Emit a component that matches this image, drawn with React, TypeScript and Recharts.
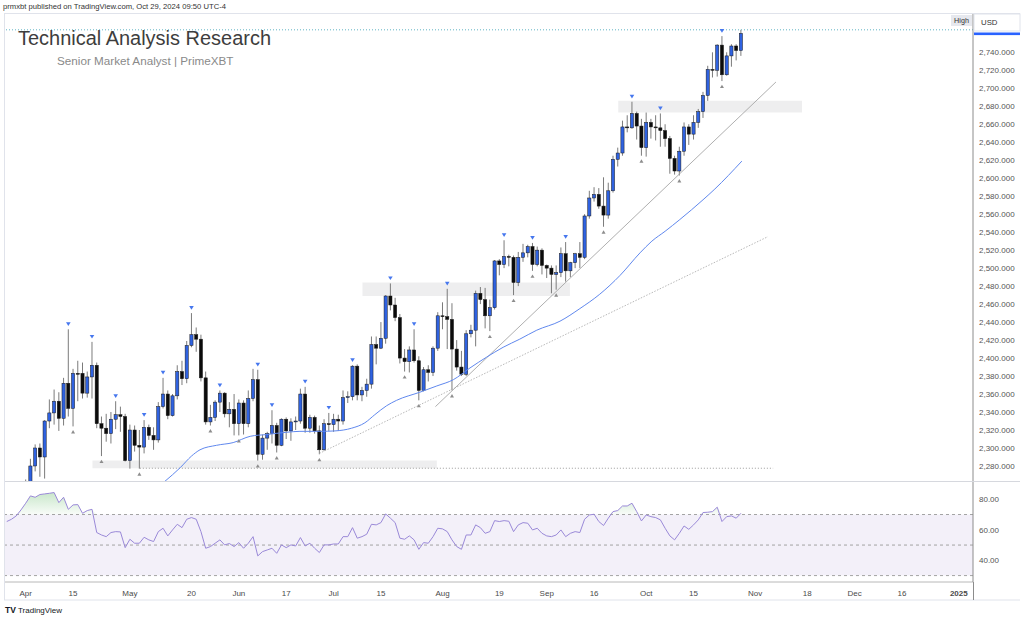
import React from "react";
import {
  ComposedChart,
  Bar,
  Line,
  Scatter,
  Area,
  XAxis,
  YAxis,
  ReferenceArea,
  ReferenceLine,
} from "recharts";

const FONT = '"Liberation Sans", Arial, Helvetica, sans-serif';

// bar index of the first candle (0 = Apr 1, 2024; daily, weekdays only)
const firstBar = -4;

const opens = [
  2165, 2172, 2178, 2194,
  2233, 2251, 2280, 2300, 2290, 2330, 2339, 2352, 2333, 2372,
  2344, 2383, 2383, 2361, 2379, 2392, 2327, 2322, 2316, 2332,
  2337, 2335, 2286, 2320, 2303, 2301, 2323, 2314, 2309, 2346,
  2360, 2336, 2358, 2385, 2377, 2414, 2426, 2421, 2378, 2329,
  2334, 2351, 2361, 2338, 2343, 2327, 2350, 2327, 2355, 2376,
  2293, 2311, 2316, 2325, 2303, 2332, 2319, 2329, 2330, 2360,
  2322, 2334, 2319, 2298, 2327, 2326, 2332, 2330, 2356, 2357,
  2391, 2359, 2364, 2371, 2415, 2411, 2422, 2469, 2459, 2445,
  2400, 2396, 2409, 2397, 2364, 2387, 2384, 2411, 2447, 2446,
  2443, 2410, 2390, 2382, 2427, 2431, 2472, 2465, 2447, 2456,
  2508, 2504, 2513, 2512, 2484, 2512, 2517, 2524, 2504, 2520,
  2503, 2500, 2493, 2495, 2516, 2497, 2506, 2516, 2512, 2558,
  2578, 2582, 2569, 2559, 2586, 2621, 2628, 2657, 2656, 2672,
  2658, 2634, 2662, 2657, 2656, 2653, 2644, 2622, 2608, 2630,
  2657, 2649, 2662, 2674, 2692, 2721, 2720, 2748, 2715, 2736,
  2747, 2742,
];
const highs = [
  2176, 2186, 2196, 2236,
  2265, 2288, 2304, 2305, 2331, 2354, 2365, 2362, 2378, 2432,
  2388, 2397, 2395, 2385, 2418, 2395, 2335, 2338, 2340, 2352,
  2346, 2338, 2326, 2325, 2320, 2331, 2326, 2323, 2351, 2378,
  2364, 2360, 2392, 2397, 2419, 2450, 2434, 2426, 2385, 2348,
  2353, 2364, 2362, 2351, 2360, 2354, 2353, 2364, 2388, 2387,
  2315, 2318, 2342, 2328, 2333, 2334, 2333, 2335, 2366, 2368,
  2337, 2336, 2325, 2332, 2339, 2338, 2337, 2364, 2363, 2392,
  2393, 2368, 2377, 2424, 2424, 2440, 2470, 2483, 2467, 2449,
  2410, 2413, 2432, 2402, 2390, 2392, 2413, 2451, 2462, 2477,
  2461, 2420, 2408, 2431, 2437, 2475, 2479, 2478, 2465, 2509,
  2510, 2531, 2515, 2514, 2518, 2527, 2526, 2528, 2524, 2522,
  2504, 2503, 2503, 2523, 2529, 2507, 2517, 2529, 2560, 2586,
  2590, 2589, 2601, 2595, 2625, 2634, 2664, 2670, 2685, 2674,
  2666, 2673, 2666, 2670, 2672, 2660, 2647, 2625, 2635, 2662,
  2660, 2670, 2677, 2696, 2725, 2740, 2749, 2758, 2740, 2749,
  2749, 2765,
];
const lows = [
  2163, 2169, 2172, 2188,
  2228, 2243, 2274, 2268, 2266, 2322, 2326, 2319, 2325, 2335,
  2324, 2352, 2355, 2356, 2355, 2322, 2291, 2307, 2305, 2321,
  2318, 2285, 2277, 2296, 2277, 2294, 2309, 2298, 2306, 2344,
  2332, 2335, 2354, 2370, 2372, 2412, 2407, 2374, 2326, 2325,
  2330, 2340, 2334, 2323, 2314, 2314, 2315, 2323, 2352, 2286,
  2287, 2298, 2305, 2295, 2302, 2310, 2308, 2320, 2327, 2317,
  2317, 2316, 2293, 2297, 2319, 2318, 2319, 2326, 2350, 2353,
  2353, 2352, 2357, 2366, 2393, 2410, 2416, 2453, 2441, 2394,
  2385, 2384, 2395, 2353, 2363, 2374, 2380, 2408, 2432, 2410,
  2364, 2386, 2380, 2380, 2423, 2413, 2460, 2433, 2430, 2454,
  2492, 2500, 2502, 2470, 2480, 2507, 2512, 2497, 2502, 2493,
  2489, 2472, 2476, 2490, 2485, 2490, 2500, 2500, 2510, 2555,
  2574, 2566, 2546, 2555, 2584, 2613, 2625, 2651, 2655, 2643,
  2625, 2624, 2644, 2642, 2635, 2635, 2605, 2604, 2603, 2625,
  2637, 2643, 2656, 2667, 2686, 2712, 2713, 2708, 2714, 2724,
  2731, 2736,
];
const closes = [
  2172, 2178, 2194, 2233,
  2251, 2280, 2300, 2290, 2330, 2339, 2352, 2333, 2372, 2344,
  2383, 2382, 2361, 2379, 2392, 2327, 2322, 2316, 2332, 2337,
  2335, 2286, 2320, 2303, 2301, 2323, 2314, 2309, 2346, 2360,
  2336, 2358, 2385, 2377, 2414, 2426, 2421, 2378, 2329, 2334,
  2351, 2361, 2338, 2343, 2327, 2350, 2327, 2355, 2376, 2293,
  2311, 2316, 2325, 2303, 2332, 2319, 2329, 2330, 2360, 2322,
  2334, 2319, 2298, 2327, 2326, 2332, 2330, 2356, 2357, 2391,
  2359, 2364, 2371, 2415, 2411, 2422, 2469, 2459, 2445, 2400,
  2396, 2409, 2397, 2364, 2387, 2384, 2411, 2447, 2446, 2443,
  2410, 2390, 2382, 2427, 2431, 2472, 2465, 2447, 2456, 2508,
  2504, 2513, 2512, 2484, 2512, 2517, 2524, 2504, 2520, 2503,
  2500, 2493, 2495, 2516, 2497, 2506, 2516, 2512, 2558, 2578,
  2582, 2569, 2559, 2586, 2621, 2628, 2657, 2656, 2672, 2658,
  2634, 2662, 2657, 2656, 2653, 2644, 2622, 2608, 2630, 2657,
  2649, 2662, 2674, 2692, 2721, 2720, 2748, 2715, 2736, 2747,
  2742, 2761,
];

// RSI(14) values per bar
const rsiValues = [
  65.4, 66.9, 69.1, 73,
  77.4, 82.2, 81.3, 83.1, 83.5, 83.9, 84.4, 77.8, 81.3, 73.4,
  76.3, 76.5, 70.8, 72.6, 73.4, 58.2, 56.6, 55.5, 58.2, 58.8,
  58.6, 48.3, 53.8, 51.2, 51.2, 55.1, 53.4, 52.3, 58.8, 61,
  56, 59.9, 63.6, 61.4, 66.9, 68, 66.9, 58.8, 47.9, 49,
  51.2, 53.4, 50.1, 51, 49, 51.6, 47.9, 51.2, 55.5, 42.9,
  45.7, 46.8, 47.9, 44.6, 50.1, 48.3, 50.1, 49.4, 54.9, 49.4,
  51.2, 47.9, 45.1, 50.1, 50.1, 50.7, 50.7, 55.5, 55.5, 61.4,
  54.5, 55.5, 57.1, 63.6, 63.2, 64.7, 70.4, 67.6, 64.7, 54.5,
  53.8, 56, 53.4, 47.2, 51.6, 51.2, 55.5, 61, 60.6, 58.8,
  53.4, 49, 47.2, 56.6, 56.6, 63.2, 61.4, 57.7, 58.8, 66,
  65.4, 66, 65.6, 58.8, 63.2, 64.7, 64.3, 59.9, 61, 57.7,
  56, 55.5, 56.6, 59.9, 55.5, 57.7, 58.8, 58.2, 66.9, 69.7,
  70.2, 65.4, 62.8, 67.6, 71.9, 72.6, 75.6, 75.6, 77.4, 71.9,
  65.8, 69.7, 68.6, 68, 66.5, 61, 56, 53.4, 57.7, 62.5,
  60.3, 63.2, 66.5, 71.3, 71.5, 71.9, 74.8, 65.4, 68.6, 69.1,
  67.6, 70.8,
];

// moving average (blue line), read at bar positions
const maBars = [
  29.4, 32.6, 35, 36.8, 40.3, 43.8, 47.4, 50.9, 55.1, 57.9, 62.1, 65.3,
  68.8, 71.6, 73.7, 76.2, 78.3, 83.2, 86.8, 90.3, 93.8, 97.3, 100.8, 104.3,
  107.9, 112.8, 117, 121.2, 125.5, 129.7, 132.2, 135, 138.1, 143, 145.5, 151.2,
];
const maValues = [
  2263, 2278, 2291, 2298, 2303, 2306, 2313, 2315, 2317.5, 2318.5, 2318.5, 2319,
  2322, 2328, 2337, 2347, 2353, 2362, 2369, 2376, 2389, 2401, 2412, 2421,
  2431, 2441, 2455, 2471, 2492, 2517, 2530, 2541, 2554, 2576, 2588, 2619,
];

// pivot markers
const pivotHighBars = [9, 14, 19, 25, 29, 35, 41, 49, 52, 59, 64, 69, 77, 82, 89, 101, 107, 114, 128, 134, 147];
const pivotLowBars = [10, 16, 24, 39, 45, 49, 53, 62, 80, 83, 90, 98, 103, 107, 112, 122, 130, 138, 147];

// drawings: zones [x1, x2, yLow, yHigh]
const zoneBottom = [14.1, 86.8, 2277.5, 2286];
const zoneMiddle = [71.1, 114.9, 2469, 2484];
const zoneTop = [125.1, 163.9, 2673, 2686];
const supportDotted = [24.1, 157.8, 2277.5];
const trendLower = [62, 2294, 156.7, 2535];
const trendUpper = [86.5, 2346, 158.4, 2707];
const highLevel = 2765;

// axes
const xDomain = [-4.37, 200];
const priceDomain = [2263.3, 2783.7];
const priceTicks = [2280, 2300, 2320, 2340, 2360, 2380, 2400, 2420, 2440, 2460, 2480, 2500, 2520, 2540, 2560, 2580, 2600, 2620, 2640, 2660, 2680, 2700, 2720, 2740];
const rsiDomain = [25.8, 91.3];
const rsiTicks = [40, 60, 80];
const dateTickBars = [0, 10, 22, 35, 45, 55, 65, 75, 88, 100, 110, 120, 131, 141, 154, 165, 175, 185, 197];
const dateTickLabels = ["Apr", "15", "May", "20", "Jun", "17", "Jul", "15", "Aug", "19", "Sep", "16", "Oct", "15", "Nov", "18", "Dec", "16", "2025"];

const candles = opens.map((o, k) => ({
  i: k + firstBar,
  o,
  h: highs[k],
  l: lows[k],
  c: closes[k],
  range: [lows[k], highs[k]],
}));
const rsiData = rsiValues.map((r, k) => ({ i: k + firstBar, rsi: r }));
const maData = maBars.map((b, k) => ({ i: b, v: maValues[k] }));
const pivotHighData = pivotHighBars.map((b) => ({ i: b, y: highs[b - firstBar] }));
const pivotLowData = pivotLowBars.map((b) => ({ i: b, y: lows[b - firstBar] }));

const fmtPrice = (v: number) =>
  v.toLocaleString("en-US", { minimumFractionDigits: 3, maximumFractionDigits: 3 });

const Candle = (props: any) => {
  const { x, y, width, height, payload } = props;
  if (x == null || y == null || !payload) return null;
  const top = Math.min(y, y + height);
  const h = Math.abs(height);
  const span = payload.h - payload.l;
  const k = span > 0 ? h / span : 0;
  const yo = top + (payload.h - payload.o) * k;
  const yc = top + (payload.h - payload.c) * k;
  const cx = x + width / 2;
  const up = payload.c >= payload.o;
  const bt = Math.min(yo, yc);
  const bh = Math.max(Math.abs(yc - yo), 0.8);
  return (
    <g>
      <line x1={cx} x2={cx} y1={top} y2={top + h} stroke="#7b7b7b" strokeWidth={1} />
      <rect
        x={cx - 1.6}
        y={bt}
        width={3.2}
        height={bh}
        fill={up ? "#2f62e0" : "#0b0b0b"}
        stroke="#1a1a1a"
        strokeWidth={0.5}
      />
    </g>
  );
};

const HighMark = (props: any) => {
  const { cx, cy } = props;
  if (cx == null || cy == null) return null;
  return <path d={`M${cx - 2.3},${cy - 7} L${cx + 2.3},${cy - 7} L${cx},${cy - 3.3} Z`} fill="#4677ee" />;
};
const LowMark = (props: any) => {
  const { cx, cy } = props;
  if (cx == null || cy == null) return null;
  return <path d={`M${cx - 2},${cy + 7} L${cx + 2},${cy + 7} L${cx},${cy + 3.6} Z`} fill="#8d8d8d" />;
};

const PriceTick = (props: any) => {
  const { x, y, payload } = props;
  return (
    <text x={x} y={y} dy={3} fontSize={8} fill="#555" fontFamily={FONT}>
      {fmtPrice(payload.value)}
    </text>
  );
};
const RsiTick = (props: any) => {
  const { x, y, payload } = props;
  return (
    <text x={x} y={y} dy={3} fontSize={8} fill="#555" fontFamily={FONT}>
      {Number(payload.value).toFixed(2)}
    </text>
  );
};
const DateTick = (props: any) => {
  const { x, y, payload } = props;
  const k = dateTickBars.indexOf(payload.value);
  const label = k >= 0 ? dateTickLabels[k] : "";
  return (
    <text
      x={x}
      y={y}
      dy={5.5}
      textAnchor="middle"
      fontSize={8}
      fill="#4a4a4a"
      fontWeight={label === "2025" ? 700 : 400}
      fontFamily={FONT}
    >
      {label}
    </text>
  );
};

export default function App() {
  return (
    <div
      style={{
        position: "absolute",
        left: 0,
        top: 0,
        width: 1024,
        height: 618,
        background: "#ffffff",
        overflow: "hidden",
        fontFamily: FONT,
      }}
    >
      {/* price pane */}
      <div style={{ position: "absolute", left: 0, top: 13, width: 1024, height: 468 }}>
        <ComposedChart
          width={1024}
          height={468}
          data={candles}
          margin={{ top: 0, right: 0, bottom: 0, left: 5 }}
        >
          <XAxis type="number" dataKey="i" domain={xDomain} hide allowDataOverflow />
          <YAxis
            orientation="right"
            type="number"
            domain={priceDomain}
            ticks={priceTicks}
            width={51}
            allowDataOverflow
            interval={0}
            axisLine={{ stroke: "#8c8c8c" }}
            tickLine={false}
            tickMargin={0}
            tick={<PriceTick />}
          />
          <ReferenceArea
            x1={zoneBottom[0]}
            x2={zoneBottom[1]}
            y1={zoneBottom[2]}
            y2={zoneBottom[3]}
            fill="#787b86"
            fillOpacity={0.13}
            stroke="none"
          />
          <ReferenceArea
            x1={zoneMiddle[0]}
            x2={zoneMiddle[1]}
            y1={zoneMiddle[2]}
            y2={zoneMiddle[3]}
            fill="#787b86"
            fillOpacity={0.13}
            stroke="none"
          />
          <ReferenceArea
            x1={zoneTop[0]}
            x2={zoneTop[1]}
            y1={zoneTop[2]}
            y2={zoneTop[3]}
            fill="#787b86"
            fillOpacity={0.13}
            stroke="none"
          />
          <ReferenceLine
            segment={[
              { x: supportDotted[0], y: supportDotted[2] },
              { x: supportDotted[1], y: supportDotted[2] },
            ]}
            stroke="#9a9a9a"
            strokeDasharray="1 2"
            strokeWidth={1}
          />
          <ReferenceLine y={highLevel} stroke="#5fb4c4" strokeDasharray="1 2" strokeWidth={1} />
          <ReferenceLine
            segment={[
              { x: trendLower[0], y: trendLower[1] },
              { x: trendLower[2], y: trendLower[3] },
            ]}
            stroke="#b0b0b0"
            strokeDasharray="1.5 1.5"
            strokeWidth={0.9}
          />
          <ReferenceLine
            segment={[
              { x: trendUpper[0], y: trendUpper[1] },
              { x: trendUpper[2], y: trendUpper[3] },
            ]}
            stroke="#a6a6a6"
            strokeWidth={0.9}
          />
          <Line
            data={maData}
            dataKey="v"
            type="monotone"
            stroke="#6088ee"
            strokeWidth={1}
            dot={false}
            isAnimationActive={false}
          />
          <Bar dataKey="range" barSize={3} shape={<Candle />} isAnimationActive={false} />
          <Scatter data={pivotHighData} dataKey="y" shape={<HighMark />} isAnimationActive={false} />
          <Scatter data={pivotLowData} dataKey="y" shape={<LowMark />} isAnimationActive={false} />
        </ComposedChart>
      </div>

      {/* RSI pane + time axis */}
      <div style={{ position: "absolute", left: 0, top: 482, width: 1024, height: 117 }}>
        <ComposedChart
          width={1024}
          height={117}
          data={rsiData}
          margin={{ top: 0, right: 0, bottom: 0, left: 5 }}
        >
          <defs>
            <linearGradient id="obFill" x1="0" y1="0" x2="0" y2="1">
              <stop offset="0%" stopColor="#4caf50" stopOpacity={0.5} />
              <stop offset="100%" stopColor="#4caf50" stopOpacity={0.06} />
            </linearGradient>
          </defs>
          <XAxis
            type="number"
            dataKey="i"
            domain={xDomain}
            ticks={dateTickBars}
            interval={0}
            height={17}
            allowDataOverflow
            axisLine={{ stroke: "#b8b8b8" }}
            tickLine={false}
            tick={<DateTick />}
          />
          <YAxis
            orientation="right"
            type="number"
            domain={rsiDomain}
            ticks={rsiTicks}
            width={51}
            allowDataOverflow
            axisLine={{ stroke: "#8c8c8c" }}
            tickLine={false}
            tickMargin={0}
            tick={<RsiTick />}
          />
          <ReferenceArea y1={30} y2={70} fill="#7e57c2" fillOpacity={0.09} stroke="none" />
          <ReferenceLine y={70} stroke="#a3a3a3" strokeDasharray="3 3" />
          <ReferenceLine y={50} stroke="#a3a3a3" strokeDasharray="3 3" />
          <ReferenceLine y={30} stroke="#a3a3a3" strokeDasharray="3 3" />
          <Area
            dataKey={(d: any) => [70, Math.max(70, d.rsi)]}
            type="linear"
            stroke="none"
            fill="url(#obFill)"
            isAnimationActive={false}
          />
          <Line
            dataKey="rsi"
            type="linear"
            stroke="#9a89d8"
            strokeWidth={1}
            dot={false}
            isAnimationActive={false}
          />
        </ComposedChart>
      </div>

      {/* overlay: frame, labels, texts */}
      <svg
        width={1024}
        height={618}
        style={{ position: "absolute", left: 0, top: 0, pointerEvents: "none" }}
      >
        <line x1={4} x2={1020} y1={13.5} y2={13.5} stroke="#e0e3eb" />
        <line x1={4.5} x2={4.5} y1={13.5} y2={600} stroke="#e0e3eb" />
        <line x1={5} x2={973} y1={481.5} y2={481.5} stroke="#d6d8de" />
        <line x1={973} x2={1020} y1={481.5} y2={481.5} stroke="#d6d8de" />
        <line x1={4} x2={1020} y1={600} y2={600} stroke="#e0e3eb" />
        <line x1={973.5} x2={973.5} y1={582} y2={600} stroke="#8c8c8c" />

        <text x={3} y={9} fontSize={7.6} fill="#333" fontFamily={FONT} textLength={223} lengthAdjust="spacingAndGlyphs">
          prmxbt published on TradingView.com, Oct 29, 2024 09:50 UTC-4
        </text>
        <text x={18} y={45} fontSize={20} fill="#3d3d3d" fontFamily={FONT} textLength={253} lengthAdjust="spacingAndGlyphs">
          Technical Analysis Research
        </text>
        <text x={57} y={65} fontSize={11.7} fill="#8a8a8a" fontFamily={FONT} textLength={176.5} lengthAdjust="spacingAndGlyphs">
          Senior Market Analyst | PrimeXBT
        </text>

        <rect x={951} y={15} width={21} height={11} fill="#e6e8ee" />
        <text x={961.5} y={23.3} fontSize={7.2} fill="#333" textAnchor="middle" fontFamily={FONT}>
          High
        </text>

        <rect x={974} y={14} width={46} height={17} fill="#ffffff" stroke="#e0e3eb" />
        <text x={981} y={25} fontSize={7.8} fill="#333" fontFamily={FONT}>
          USD
        </text>
        <rect x={974} y={32.5} width={46} height={2.6} fill="#2962ff" />

        <text x={5} y={612.5} fontSize={8.5} fontWeight={700} fill="#131722" fontFamily={FONT}>
          TV
        </text>
        <text x={18} y={612.5} fontSize={7.6} fill="#131722" fontFamily={FONT} textLength={44} lengthAdjust="spacingAndGlyphs">
          TradingView
        </text>
      </svg>
    </div>
  );
}
